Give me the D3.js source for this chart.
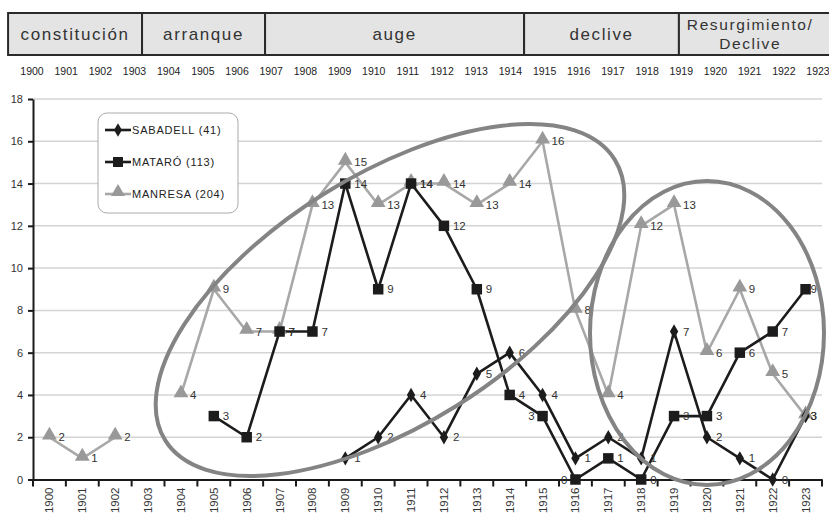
<!DOCTYPE html>
<html>
<head>
<meta charset="utf-8">
<style>
  body { margin: 0; background: #fff; font-family: "Liberation Sans", Arial, sans-serif; }
  .grid line { stroke: #d4d4d4; stroke-width: 1.5; }
  .axis path, .axis line { stroke: #1a1a1a; stroke-width: 2; }
  .axis text { fill: #333; font-size: 11px; font-family: "Liberation Sans", Arial, sans-serif; }
  .phase-rect { fill: #e4e4e4; stroke: #2a2a2a; stroke-width: 2; }
  .phase-text { fill: #333; font-size: 17px; letter-spacing: 1.6px; text-anchor: middle; }
  .head-year { fill: #222; font-size: 10.5px; text-anchor: middle; }
  .lbl { fill: #333; font-size: 11.5px; }
  .ring { fill: none; stroke: #848484; stroke-width: 4; }
</style>
</head>
<body>
<script src="https://d3js.org/d3.v7.min.js"></script>
<script>
const years = d3.range(1900, 1924).map(String);

const sabadell = [null, null, null, null, null, null, null, null, null,
  1, 2, 4, 2, 5, 6, 4, 1, 2, 1, 7, 2, 1, 0, 3];
const mataro = [null, null, null, null, null,
  3, 2, 7, 7, 14, 9, 14, 12, 9, 4, 3, 0, 1, 0, 3, 3, 6, 7, 9];
const manresa = [2, 1, 2, null, 4, 9, 7, 7, 13, 15, 13, 14, 14, 13, 14, 16,
  8, 4, 12, 13, 6, 9, 5, 3];

const seriesNames = ["SABADELL (41)", "MATARÓ (113)", "MANRESA (204)"];

// phases of the header band (start / end in year index units)
const phaseNames = [["constitución"], ["arranque"], ["auge"], ["declive"], ["Resurgimiento/", "Declive"]];
const phaseStart = [-0.7, 3.22, 6.82, 14.4, 18.93];
const phaseEnd = [3.22, 6.82, 14.4, 18.93, 23.1];

const yTicks = d3.range(0, 19, 2);

const width = 829, height = 514;
const svg = d3.select("body").append("svg")
  .attr("width", width).attr("height", height);

// header band
const hx = d3.scaleLinear().domain([0, 23]).range([32, 818]);
const head = svg.append("g");
phaseNames.forEach((lines, i) => {
  const x0 = hx(phaseStart[i]);
  const x1 = i === phaseNames.length - 1 ? width + 10 : hx(phaseEnd[i]);
  head.append("rect").attr("class", "phase-rect")
    .attr("x", x0).attr("y", 13).attr("width", x1 - x0).attr("height", 42);
  const cx = (x0 + hx(phaseEnd[i])) / 2;
  const t = head.append("text").attr("class", "phase-text");
  if (lines.length === 1) {
    t.append("tspan").attr("x", cx).attr("y", 40).text(lines[0]);
  } else {
    t.style("font-size", "15.5px");
    t.append("tspan").attr("x", cx).attr("y", 30).text(lines[0]);
    t.append("tspan").attr("x", cx).attr("y", 49).text(lines[1]);
  }
});
head.selectAll(".head-year").data(years).join("text")
  .attr("class", "head-year")
  .attr("x", (d, i) => hx(i)).attr("y", 75)
  .text(d => d);

// chart scales
const x = d3.scaleBand().domain(years).range([33, 822]);
const y = d3.scaleLinear().domain([0, 18]).range([479.5, 99]);
const cx = d => x(d) + x.bandwidth() / 2;

svg.append("g").attr("class", "grid")
  .selectAll("line").data(yTicks.slice(1)).join("line")
  .attr("x1", 33).attr("x2", 822)
  .attr("y1", d => y(d)).attr("y2", d => y(d));

const yAxis = svg.append("g").attr("class", "axis")
  .attr("transform", "translate(33,0)")
  .call(d3.axisLeft(y).tickValues(yTicks).tickSize(5).tickSizeOuter(0));
yAxis.selectAll("text").attr("x", -10);

const xAxis = svg.append("g").attr("class", "axis")
  .attr("transform", "translate(0," + y(0) + ")")
  .call(d3.axisBottom(x).tickSize(0).tickSizeOuter(0));
xAxis.selectAll("text")
  .attr("transform", "rotate(-90)")
  .attr("x", -8).attr("y", 0).attr("dy", "0.35em")
  .style("text-anchor", "end").style("font-size", "11.5px");
xAxis.selectAll(".bound").data(d3.range(0, years.length + 1)).join("line")
  .attr("class", "bound")
  .attr("x1", d => 33 + d * x.bandwidth()).attr("x2", d => 33 + d * x.bandwidth())
  .attr("y1", 0).attr("y2", 7);

// series
const series = [
  { name: seriesNames[0], values: sabadell, color: "#1c1c1c", mcolor: "#1c1c1c", shape: d3.symbolDiamond, size: 60 },
  { name: seriesNames[1], values: mataro, color: "#1c1c1c", mcolor: "#1c1c1c", shape: d3.symbolSquare, size: 110 },
  { name: seriesNames[2], values: manresa, color: "#a8a8a8", mcolor: "#999999", shape: d3.symbolTriangle, size: 95 }
];

const line = d3.line()
  .defined(d => d.v != null)
  .x(d => cx(d.year))
  .y(d => y(d.v));

const plot = svg.append("g");
// draw the grey series first
[series[2], series[1], series[0]].forEach(s => {
  const pts = years.map((yr, i) => ({ year: yr, v: s.values[i] }));
  plot.append("path").datum(pts)
    .attr("fill", "none").attr("stroke", s.color).attr("stroke-width", 2.6)
    .attr("stroke-linejoin", "round")
    .attr("d", line);
});

// annotation rings
svg.append("ellipse").attr("class", "ring")
  .attr("cx", 0).attr("cy", 0).attr("rx", 265).attr("ry", 125)
  .attr("transform", "translate(390,300) rotate(-32)");
svg.append("ellipse").attr("class", "ring")
  .attr("cx", 707).attr("cy", 333).attr("rx", 117).attr("ry", 152);

// markers and labels
const leftLabels = { "MATARÓ (113)": ["1915", "1916"] };
[series[2], series[1], series[0]].forEach(s => {
  const pts = years.map((yr, i) => ({ year: yr, v: s.values[i] })).filter(d => d.v != null);
  const dy = s.shape === d3.symbolTriangle ? 2 : 0;
  plot.append("g").selectAll("path").data(pts).join("path")
    .attr("transform", d => "translate(" + cx(d.year) + "," + (y(d.v) - dy) + ")")
    .attr("d", d3.symbol().type(s.shape).size(s.size))
    .attr("fill", s.mcolor);
  const left = leftLabels[s.name] || [];
  plot.append("g").selectAll("text").data(pts).join("text")
    .attr("class", "lbl")
    .attr("x", d => cx(d.year) + (left.includes(d.year) ? -8 : (d.year === "1923" ? 5 : 9)))
    .attr("y", d => y(d.v) + 4)
    .attr("text-anchor", d => left.includes(d.year) ? "end" : "start")
    .text(d => d.v);
});

// legend
const lg = svg.append("g");
lg.append("rect").attr("x", 98).attr("y", 113).attr("width", 140).attr("height", 100)
  .attr("rx", 9).attr("fill", "#fff").attr("stroke", "#aaa").attr("stroke-width", 1);
series.forEach((s, i) => {
  const ly = 130 + i * 32;
  lg.append("line").attr("x1", 105).attr("x2", 131).attr("y1", ly).attr("y2", ly)
    .attr("stroke", s.color).attr("stroke-width", 2.6);
  lg.append("path").attr("transform", "translate(118," + (ly - (i === 2 ? 2 : 0)) + ")")
    .attr("d", d3.symbol().type(s.shape).size(s.size * 0.9)).attr("fill", s.mcolor);
  lg.append("text").attr("x", 132).attr("y", ly + 4)
    .style("font-size", "11px").style("letter-spacing", "0.8px").attr("fill", "#222")
    .text(s.name);
});
</script>
</body>
</html>
